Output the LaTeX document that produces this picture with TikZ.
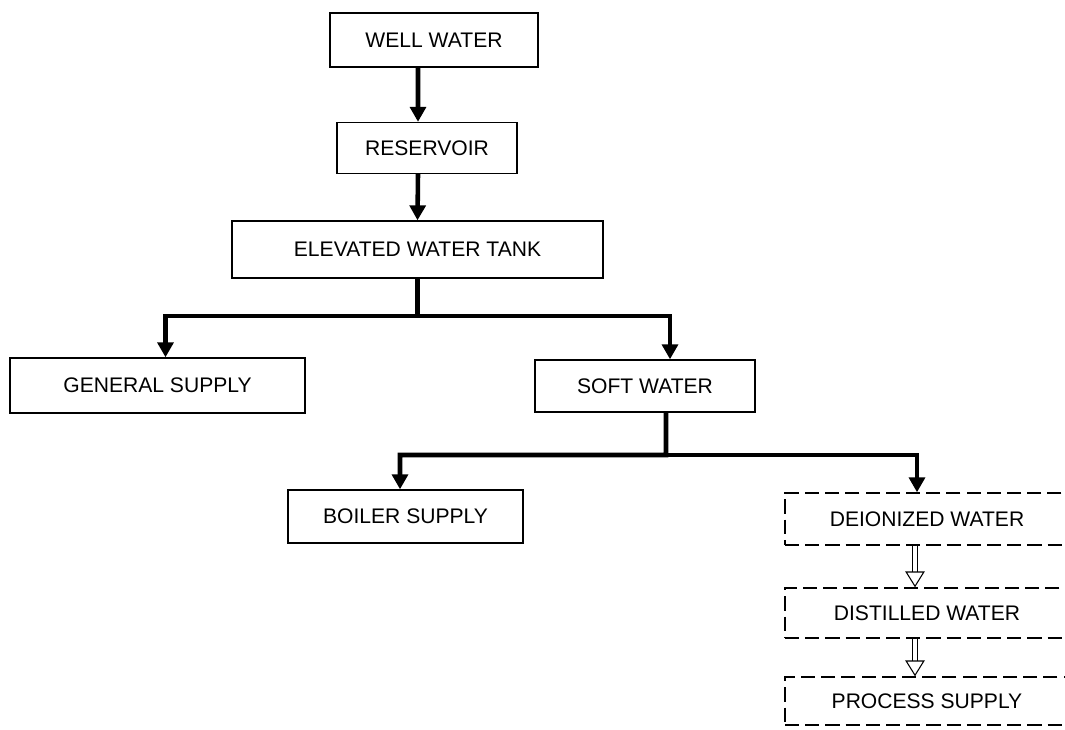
\documentclass[tikz,border=0pt]{standalone}
\usepackage{fontspec}
\setmainfont{Liberation Sans}
\usepackage{tikz}
\usetikzlibrary{arrows.meta,calc}

\begin{document}
\begin{tikzpicture}[x=0.02cm,y=-0.02cm,
  box/.style={draw,line width=0.8pt,font=\fontsize{12}{14}\selectfont},
  dbox/.style={box,dash pattern=on 8pt off 3.5pt},
  flow/.style={line width=2.6pt,-{Triangle[length=8.5pt,width=9pt]}},
  dflow/.style={double,double distance=2pt,line width=0.6pt,-{Triangle[open,length=9pt,width=11pt]}}]
\clip (0,0) rectangle (1065,730);
\fill[white] (0,0) rectangle (1065,730);

\node[box,minimum width=4.16cm,minimum height=1.08cm] (well) at (434,40) {WELL WATER};
\node[box,minimum width=3.6cm,minimum height=1.02cm] (res) at (427,148) {RESERVOIR};
\node[box,minimum width=7.42cm,minimum height=1.14cm] (tank) at (417.5,249.5) {ELEVATED WATER TANK};
\node[box,minimum width=5.9cm,minimum height=1.1cm] (general) at (157.5,385.5) {GENERAL SUPPLY};
\node[box,minimum width=4.4cm,minimum height=1.04cm] (soft) at (645,386) {SOFT WATER};
\node[box,minimum width=4.7cm,minimum height=1.06cm] (boiler) at (405.5,516.5) {BOILER SUPPLY};
\node[dbox,minimum width=5.68cm,minimum height=1.04cm] (deion) at (927,519) {DEIONIZED WATER};
\node[dbox,minimum width=5.68cm,minimum height=1.0cm] (distil) at (927,613) {DISTILLED WATER};
\node[dbox,minimum width=5.68cm,minimum height=0.96cm] (process) at (927,701) {PROCESS SUPPLY};

\coordinate (j1) at (417.5,316);
\coordinate (j2) at (666,455);

\draw[flow] ([xshift=-0.32cm]well.south) -- ([xshift=-0.18cm]res.north);
\draw[flow] ([xshift=-0.18cm]res.south) -- (tank.north);
\draw[flow] (tank.south) -- (j1) -| ([xshift=0.16cm]general.north);
\draw[flow] (j1) -| ([xshift=0.5cm]soft.north);
\draw[flow] ([xshift=0.42cm]soft.south) -- (j2) -| ([xshift=-0.11cm]boiler.north);
\draw[flow] (j2) -| ([xshift=-0.2cm]deion.north);
\draw[dflow] ([xshift=-0.24cm]deion.south) -- ([xshift=-0.24cm]distil.north);
\draw[dflow] ([xshift=-0.24cm]distil.south) -- ([xshift=-0.24cm]process.north);
\end{tikzpicture}
\end{document}
